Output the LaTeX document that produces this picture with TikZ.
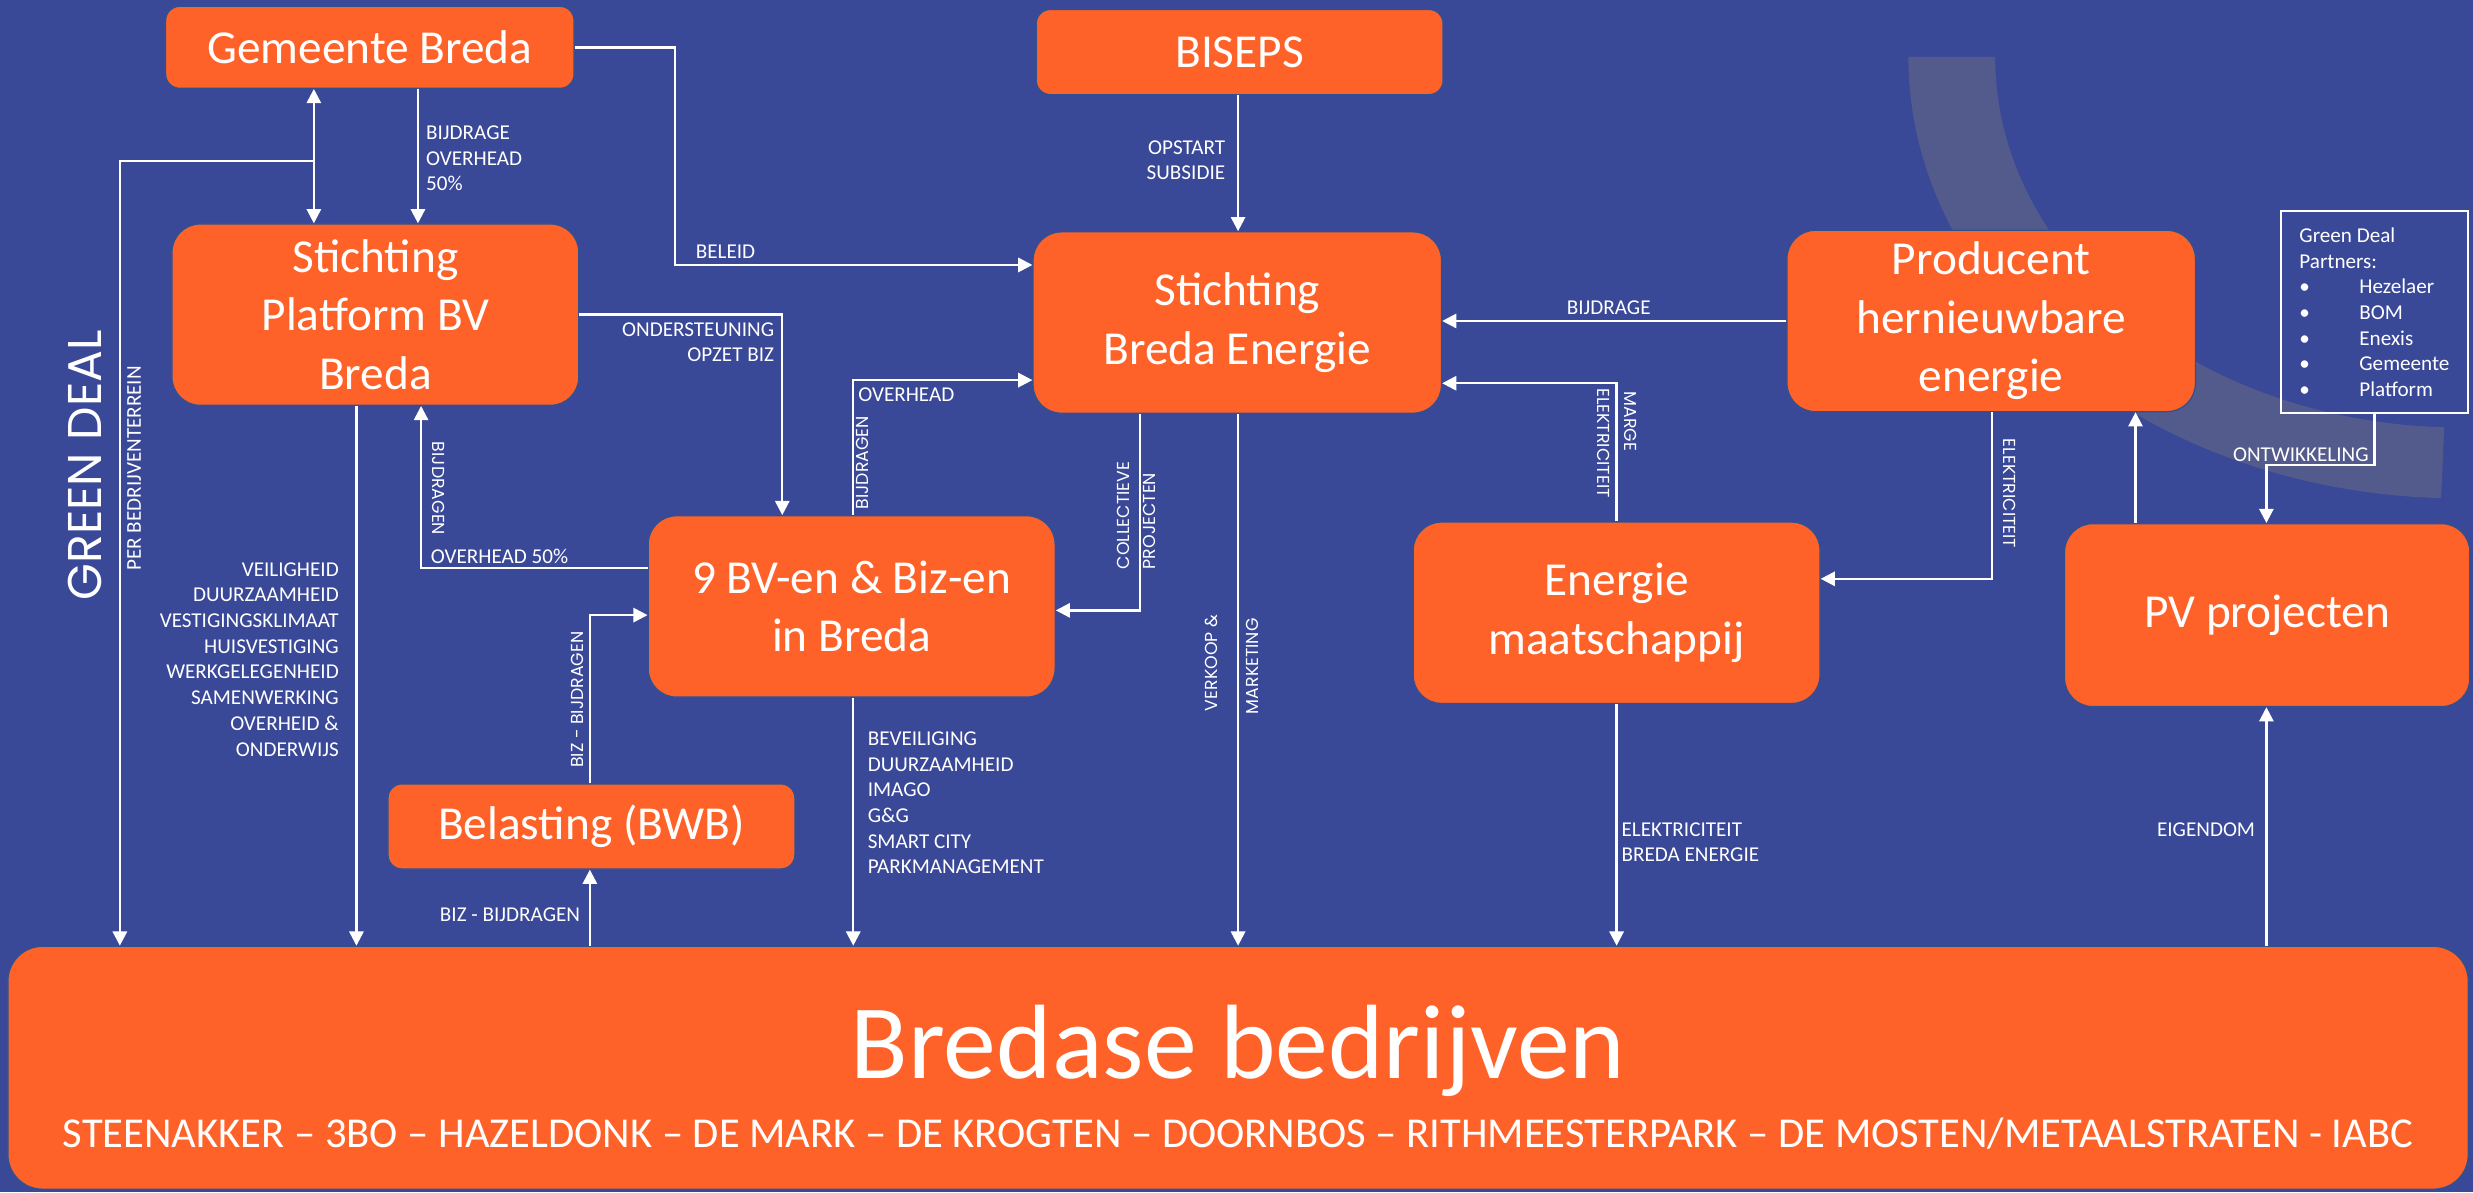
\documentclass[tikz,border=0pt]{standalone}
\usepackage{fontspec}
\setmainfont{Carlito}
\newfontfamily\gothic{Poppins}
\usetikzlibrary{arrows.meta}
\definecolor{bgblue}{RGB}{58,72,152}
\definecolor{bandblue}{RGB}{82,91,140}
\definecolor{boxorange}{RGB}{255,98,40}
\definecolor{boxline}{RGB}{47,82,143}
\newcommand\bigfont{\fontsize{30}{37}\selectfont}
\newcommand\smallfont{\fontsize{13.4}{16.3}\selectfont}
\newcommand\rotfont{\gothic\fontsize{11}{14}\selectfont}
\newcommand\gdi[1]{\makebox[38pt][l]{\textbullet}#1}
\begin{document}
\begin{tikzpicture}[x=1pt,y=-1pt,
  box/.style={rectangle,rounded corners=18pt,fill=boxorange,draw=boxline,line width=0.8pt,text=white,font=\bigfont,align=center,inner sep=0pt,minimum width=258pt,minimum height=115pt},
  sbox/.style={box,rounded corners=9pt,minimum height=54pt},
  arr/.style={draw=white,line width=1.5pt,-{Triangle[length=9pt,width=9pt]}},
  arrboth/.style={draw=white,line width=1.5pt,{Triangle[length=9pt,width=9pt]}-{Triangle[length=9pt,width=9pt]}},
  lbl/.style={text=white,font=\smallfont,inner sep=0pt},
  rlbl/.style={text=white,font=\rotfont,inner sep=0pt},
]
\useasboundingbox (0,0) rectangle (1568,756);
\fill[bgblue] (0,0) rectangle (1568,756);
% decorative band
\fill[bandblue] (1210,36) arc[start angle=180,end angle=92,x radius=350,y radius=280]
  -- (1549.7,270.9) arc[start angle=92,end angle=180,x radius=295,y radius=235] -- cycle;

% boxes
\node[sbox,minimum width=259pt,minimum height=52pt] (gem) at (234.5,30) {Gemeente Breda};
\node[sbox] (bis) at (786,33) {BISEPS};
\node[box] (plat) at (238,199.5) {Stichting\\Platform BV\\Breda};
\node[box,minimum width=259pt] (sbe) at (784.5,204.5) {Stichting\\Breda Energie};
\node[box,minimum width=259pt] (prod) at (1262.5,203.5) {Producent\\hernieuwbare\\energie};
\node[box] (nine) at (540,384.5) {9 BV-en \& Biz-en\\in Breda};
\node[box] (emij) at (1025,388.5) {Energie\\maatschappij};
\node[box,minimum width=257pt,minimum height=116pt] (pv) at (1437.5,390) {PV projecten};
\node[sbox] (bel) at (375,524) {Belasting (BWB)};
\node[box,rounded corners=22pt,minimum width=1560pt,minimum height=154pt] (bred) at (785,677) {};
\node[text=white,font=\fontsize{67}{70}\selectfont,inner sep=0pt,anchor=base] (bredt) at (785,684) {Bredase bedrijven};
\node[text=white,font=\fontsize{27}{30}\selectfont,inner sep=0pt,anchor=base] (breds) at (785,727.5) {STEENAKKER – 3BO – HAZELDONK – DE MARK – DE KROGTEN – DOORNBOS – RITHMEESTERPARK – DE MOSTEN/METAALSTRATEN - IABC};
\node[draw=white,line width=1.2pt,minimum width=119pt,minimum height=128pt,text=white,font=\smallfont,align=left,inner sep=0pt] (gd) at (1505.5,198)
  {Green Deal\\Partners:\\\gdi{Hezelaer}\\\gdi{BOM}\\\gdi{Enexis}\\\gdi{Gemeente}\\\gdi{Platform}};

% side title
\node[text=white,font=\gothic\fontsize{30}{32}\selectfont,inner sep=0pt,rotate=90] (green) at (54,295) {GREEN DEAL};

% connectors
\draw[arrboth] (gem.south -| 199,0) -- (plat.north -| 199,0);
\draw[arr] (gem.south -| 265,0) -- (plat.north -| 265,0);
\node[lbl,anchor=west,align=left] (l1) at (270,100.5) {BIJDRAGE\\OVERHEAD\\50\%};
\coordinate (gdstart) at (199,102);
\draw[arr] (gdstart) -| (bred.north -| 76,0);
\node[lbl,rotate=90] (l2) at (85,297) {PER BEDRIJVENTERREIN};
\draw[arr] (gem.east) -- (428,30) -- (428,168) -- (sbe.west |- 0,168);
\node[lbl,anchor=west] (l3) at (441,159.5) {BELEID};
\draw[arr] (bis.south -| 785,0) -- (sbe.north -| 785,0);
\node[lbl,anchor=east,align=right] (l4) at (777,101.5) {OPSTART\\SUBSIDIE};
\draw[arr] (plat.east) -| (nine.north -| 496,0);
\node[lbl,anchor=east,align=right] (l5) at (491,217) {ONDERSTEUNING\\OPZET BIZ};
\draw[arr] (nine.west |- 0,360) -| (plat.south -| 267,0);
\node[lbl,anchor=west] (l6) at (273,353) {OVERHEAD 50\%};
\node[rlbl,rotate=-90,anchor=west] (l7) at (278,280) {BIJDRAGEN};
\draw[arr] (nine.north -| 541,0) |- (sbe.west |- 0,241);
\node[lbl,anchor=west] (l8) at (544,250) {OVERHEAD};
\node[rlbl,rotate=90,anchor=west] (l9) at (547,323) {BIJDRAGEN};
\draw[arr] (sbe.south -| 723,0) |- (nine.east |- 0,387);
\node[rlbl,rotate=90,anchor=west] (l10) at (712.5,361) {COLLECTIEVE};
\node[rlbl,rotate=90,anchor=west] (l11) at (728.5,361) {PROJECTEN};
\draw[arr] (sbe.south -| 785,0) -- (bred.north -| 785,0);
\node[rlbl,rotate=90,anchor=west] (l12) at (768,451) {VERKOOP \&};
\node[rlbl,rotate=90,anchor=west] (l13) at (794,453) {MARKETING};
\draw[arr] (prod.west) -- (sbe.east |- prod.west);
\node[lbl] (l14) at (1020,195) {BIJDRAGE};
\draw[arr] (emij.north -| 1025,0) |- (sbe.east |- 0,243);
\node[rlbl,rotate=-90,anchor=west] (l15) at (1034,248) {MARGE};
\node[rlbl,rotate=-90,anchor=west] (l16) at (1017,246) {ELEKTRICITEIT};
\draw[arr] (prod.south -| 1263,0) |- (emij.east |- 0,367);
\node[rlbl,rotate=-90,anchor=west] (l17) at (1274,278) {ELEKTRICITEIT};
\draw[arr] (pv.north -| 1354,0) -- (prod.south -| 1354,0);
\draw[arr] (gd.south) -- (gd.south |- 0,295) -| (pv.north -| 1437,0);
\node[lbl,anchor=east] (l18) at (1502,288) {ONTWIKKELING};
\draw[arr] (bred.north -| 1437,0) -- (pv.south -| 1437,0);
\node[lbl,anchor=east] (l19) at (1430,526) {EIGENDOM};
\draw[arr] (emij.south) -- (bred.north -| emij.south);
\node[lbl,anchor=west,align=left] (l20) at (1028,534) {ELEKTRICITEIT\\BREDA ENERGIE};
\draw[arr] (nine.south -| 541,0) -- (bred.north -| 541,0);
\node[lbl,anchor=west,align=left] (l21) at (550,509) {BEVEILIGING\\DUURZAAMHEID\\IMAGO\\G\&G\\SMART CITY\\PARKMANAGEMENT};
\draw[arr] (plat.south -| 226,0) -- (bred.north -| 226,0);
\node[lbl,anchor=east,align=right] (l22) at (215,418) {VEILIGHEID\\DUURZAAMHEID\\VESTIGINGSKLIMAAT\\HUISVESTIGING\\WERKGELEGENHEID\\SAMENWERKING\\OVERHEID \&\\ONDERWIJS};
\draw[arr] (bred.north -| 374,0) -- (bel.south -| 374,0);
\node[lbl,anchor=east] (l23) at (368,580) {BIZ - BIJDRAGEN};
\draw[arr] (bel.north -| 374,0) |- (nine.west |- 0,390);
\node[rlbl,rotate=90,anchor=west] (l24) at (366,487) {BIZ - BIJDRAGEN};
\end{tikzpicture}
\end{document}
